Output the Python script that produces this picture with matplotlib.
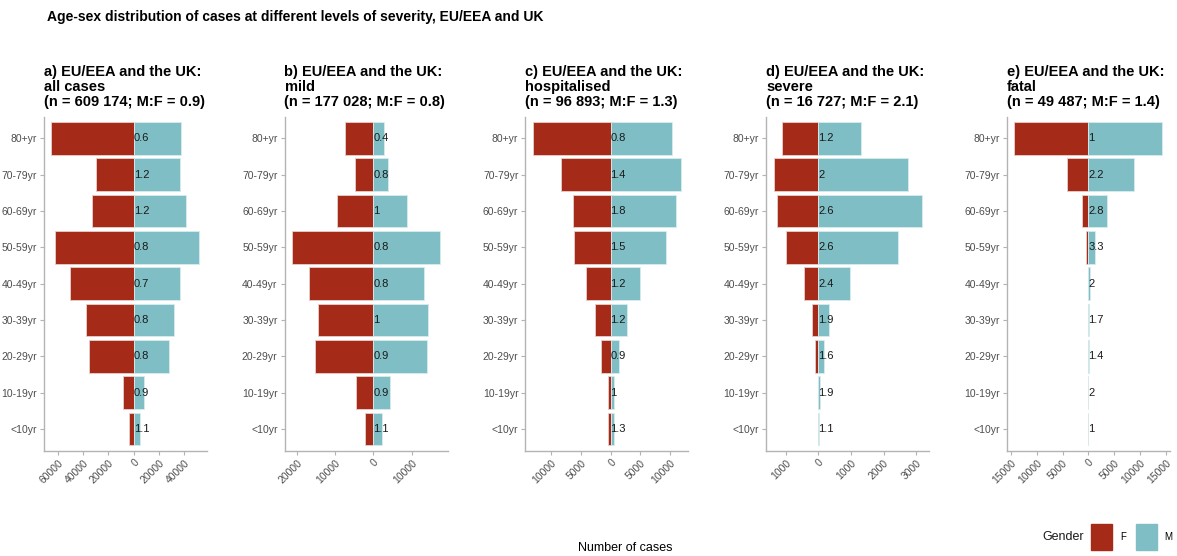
import numpy as np
import matplotlib.pyplot as plt

plt.rcParams['font.family'] = ['Liberation Sans', 'DejaVu Sans']

# --- Data: cases by age group and sex, five severity levels ---
age_groups = ['<10yr', '10-19yr', '20-29yr', '30-39yr', '40-49yr',
              '50-59yr', '60-69yr', '70-79yr', '80+yr']

titles = [
    "a) EU/EEA and the UK:\nall cases\n(n = 609 174; M:F = 0.9)",
    "b) EU/EEA and the UK:\nmild\n(n = 177 028; M:F = 0.8)",
    "c) EU/EEA and the UK:\nhospitalised\n(n = 96 893; M:F = 1.3)",
    "d) EU/EEA and the UK:\nsevere\n(n = 16 727; M:F = 2.1)",
    "e) EU/EEA and the UK:\nfatal\n(n = 49 487; M:F = 1.4)",
]

# counts ordered youngest -> oldest
female_all = [3900, 8600, 35600, 37600, 50500, 62200, 32900, 29800, 65400]
male_all = [4700, 7800, 27700, 31800, 36800, 52000, 41500, 36800, 37600]
ratio_all = ['1.1', '0.9', '0.8', '0.8', '0.7', '0.8', '1.2', '1.2', '0.6']

female_mild = [2170, 4680, 15400, 14650, 17000, 21400, 9450, 4940, 7540]
male_mild = [2300, 4420, 14100, 14400, 13260, 17500, 8840, 3900, 2860]
ratio_mild = ['1.1', '0.9', '0.9', '1', '0.8', '0.8', '1', '0.8', '0.4']

female_hosp = [400, 500, 1670, 2560, 4170, 6220, 6390, 8390, 13100]
male_hosp = [520, 500, 1450, 2830, 5000, 9340, 11000, 11840, 10340]
ratio_hosp = ['1.3', '1', '0.9', '1.2', '1.2', '1.5', '1.8', '1.4', '0.8']

female_severe = [12, 20, 100, 182, 436, 983, 1256, 1378, 1105]
male_severe = [13, 38, 160, 324, 962, 2431, 3170, 2735, 1297]
ratio_severe = ['1.1', '1.9', '1.6', '1.9', '2.4', '2.6', '2.6', '2', '1.2']

female_fatal = [2, 3, 30, 59, 150, 400, 1300, 4180, 14400]
male_fatal = [2, 6, 42, 100, 300, 1320, 3640, 8810, 14400]
ratio_fatal = ['1', '2', '1.4', '1.7', '2', '3.3', '2.8', '2.2', '1']

xticks_all = [-60000, -40000, -20000, 0, 20000, 40000]
xticks_mild = [-20000, -10000, 0, 10000]
xticks_hosp = [-10000, -5000, 0, 5000, 10000]
xticks_severe = [-1000, 0, 1000, 2000, 3000]
xticks_fatal = [-15000, -10000, -5000, 0, 5000, 10000, 15000]

panels = [
    (female_all, male_all, ratio_all, xticks_all),
    (female_mild, male_mild, ratio_mild, xticks_mild),
    (female_hosp, male_hosp, ratio_hosp, xticks_hosp),
    (female_severe, male_severe, ratio_severe, xticks_severe),
    (female_fatal, male_fatal, ratio_fatal, xticks_fatal),
]

col_f = '#a52a18'
col_m = '#7fbec4'
axis_grey = '#b3b3b3'
text_grey = '#4d4d4d'

W, H = 1177, 556
fig = plt.figure(figsize=(W / 100, H / 100), dpi=100)

y = np.arange(len(age_groups))
for i, (fem, mal, rat, ticks) in enumerate(panels):
    left = 43.7 + i * 240.8
    ax = fig.add_axes([left / W, (H - 450.7) / H, 163 / W, (450.7 - 116.7) / H])
    fem = np.array(fem, dtype=float)
    mal = np.array(mal, dtype=float)
    ax.barh(y, -fem, height=0.9, color=col_f, edgecolor='#e8d0cc', linewidth=0.6)
    ax.barh(y, mal, height=0.9, color=col_m, edgecolor='#d8ecee', linewidth=0.6)
    for yy, r in zip(y, rat):
        ax.text(0, yy, r, ha='left', va='center', fontsize=8, color='#1a1a1a')

    lo, hi = -fem.max(), mal.max()
    pad = 0.05 * (hi - lo)
    ax.set_xlim(lo - pad, hi + pad)
    ax.set_ylim(-0.6, len(age_groups) - 0.4)
    ax.set_xticks(ticks)
    ax.set_xticklabels([str(abs(t)) for t in ticks], rotation=45,
                       ha='right', rotation_mode='anchor')
    ax.set_yticks(y)
    ax.set_yticklabels(age_groups)
    ax.tick_params(axis='both', colors=axis_grey, labelcolor=text_grey,
                   labelsize=7.5, length=3, width=0.8, pad=2)
    for s in ['top', 'right']:
        ax.spines[s].set_visible(False)
    for s in ['left', 'bottom']:
        ax.spines[s].set_color(axis_grey)
        ax.spines[s].set_linewidth(1)
    ax.set_title(titles[i], loc='left', fontsize=10.5, fontweight='bold',
                 linespacing=1.05, pad=8)

fig.text(47 / W, 1 - 17 / H, 'Age-sex distribution of cases at different levels of severity, EU/EEA and UK',
         fontsize=10, fontweight='bold', ha='left', va='center')
fig.text(625 / W, 1 - 548 / H, 'Number of cases', fontsize=9, ha='center', va='center')

# legend
fig.text(1042 / W, 1 - 537 / H, 'Gender', fontsize=9, ha='left', va='center', color='#1a1a1a')
fig.patches.append(plt.Rectangle((1091 / W, 1 - 550 / H), 21 / W, 26 / H,
                                 transform=fig.transFigure, color=col_f))
fig.text(1120 / W, 1 - 537 / H, 'F', fontsize=7, ha='left', va='center')
fig.patches.append(plt.Rectangle((1136 / W, 1 - 550 / H), 21 / W, 26 / H,
                                 transform=fig.transFigure, color=col_m))
fig.text(1164 / W, 1 - 537 / H, 'M', fontsize=7, ha='left', va='center')

fig.savefig('out.png', dpi=100)
